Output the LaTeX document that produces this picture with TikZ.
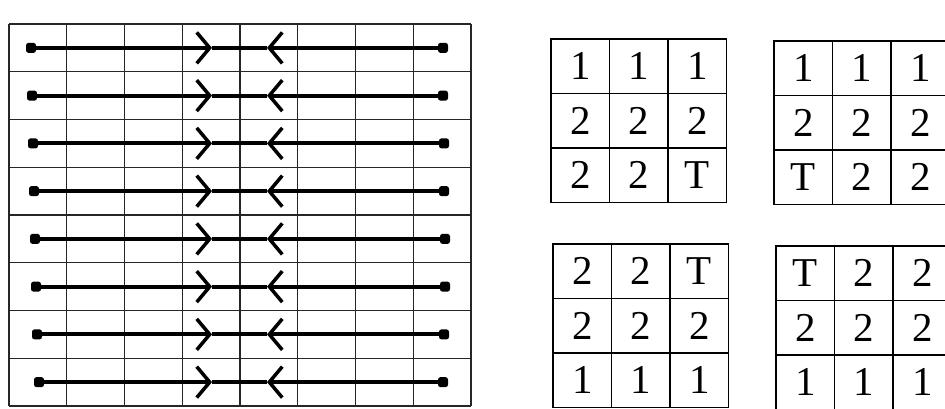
\documentclass[tikz,border=0pt]{standalone}
\usepackage{fontspec}
\setmainfont{Liberation Serif}
\usetikzlibrary{arrows.meta,positioning}

\begin{document}
\begin{tikzpicture}[
    x=1pt, y=-1pt,
    gridline/.style={draw=black!85, line width=1.4pt},
    track/.style={draw=black, line width=4pt},
    trackarr/.style={track, -{Straight Barb[length=13pt, width=31pt, line width=3.5pt]}},
    dot/.style={rectangle, rounded corners=2.5pt, fill=black, inner sep=0pt, minimum size=10pt},
    cell/.style={rectangle, draw=black, line width=1.6pt, inner sep=0pt, minimum width=58.5pt, minimum height=54.5pt, font=\fontsize{41}{41}\selectfont}
]
    \useasboundingbox (0,0) rectangle (945,408);
    \clip (0,0) rectangle (945,408);

    % 8x8 board
    \foreach \i in {0,...,8} {
        \draw [gridline] ({9+57.75*\i},24) -- ({9+57.75*\i},406);
        \draw [gridline] (9,{24+47.75*\i}) -- (471,{24+47.75*\i});
    }

    % rows meeting in the middle
    \foreach \r/\xl/\xr in {1/31/443, 2/32/443, 3/33/444, 4/34/444, 5/35/445, 6/36/445, 7/37/444, 8/39/443} {
        \node [dot] (l\r) at (\xl,{24+47.75*(\r-0.5)}) {};
        \node [dot] (r\r) at (\xr,{24+47.75*(\r-0.5)}) {};
        \coordinate (p\r) at (212,{24+47.75*(\r-0.5)});
        \coordinate (q\r) at (267,{24+47.75*(\r-0.5)});
        \draw [trackarr] (l\r) -- (p\r);
        \draw [track] (p\r) -- (q\r);
        \draw [trackarr] (r\r) -- (q\r);
    }

    % 3x3 patterns
    \foreach \t [count=\k from 0] in {1,1,1,2,2,2,2,2,T} {
        \pgfmathtruncatemacro\cc{mod(\k,3)}
        \pgfmathtruncatemacro\rr{div(\k,3)}
        \node [cell] (a\rr\cc) at ({551+58.5*(\cc+0.5)},{39+54.5*(\rr+0.5)}) {\t};
    }
    \foreach \t [count=\k from 0] in {1,1,1,2,2,2,T,2,2} {
        \pgfmathtruncatemacro\cc{mod(\k,3)}
        \pgfmathtruncatemacro\rr{div(\k,3)}
        \node [cell] (b\rr\cc) at ({774+58.5*(\cc+0.5)},{41+54.5*(\rr+0.5)}) {\t};
    }
    \foreach \t [count=\k from 0] in {2,2,T,2,2,2,1,1,1} {
        \pgfmathtruncatemacro\cc{mod(\k,3)}
        \pgfmathtruncatemacro\rr{div(\k,3)}
        \node [cell] (c\rr\cc) at ({553+58.5*(\cc+0.5)},{244+54.5*(\rr+0.5)}) {\t};
    }
    \foreach \t [count=\k from 0] in {T,2,2,2,2,2,1,1,1} {
        \pgfmathtruncatemacro\cc{mod(\k,3)}
        \pgfmathtruncatemacro\rr{div(\k,3)}
        \node [cell] (d\rr\cc) at ({776+58.5*(\cc+0.5)},{246+54.5*(\rr+0.5)}) {\t};
    }
\end{tikzpicture}
\end{document}
